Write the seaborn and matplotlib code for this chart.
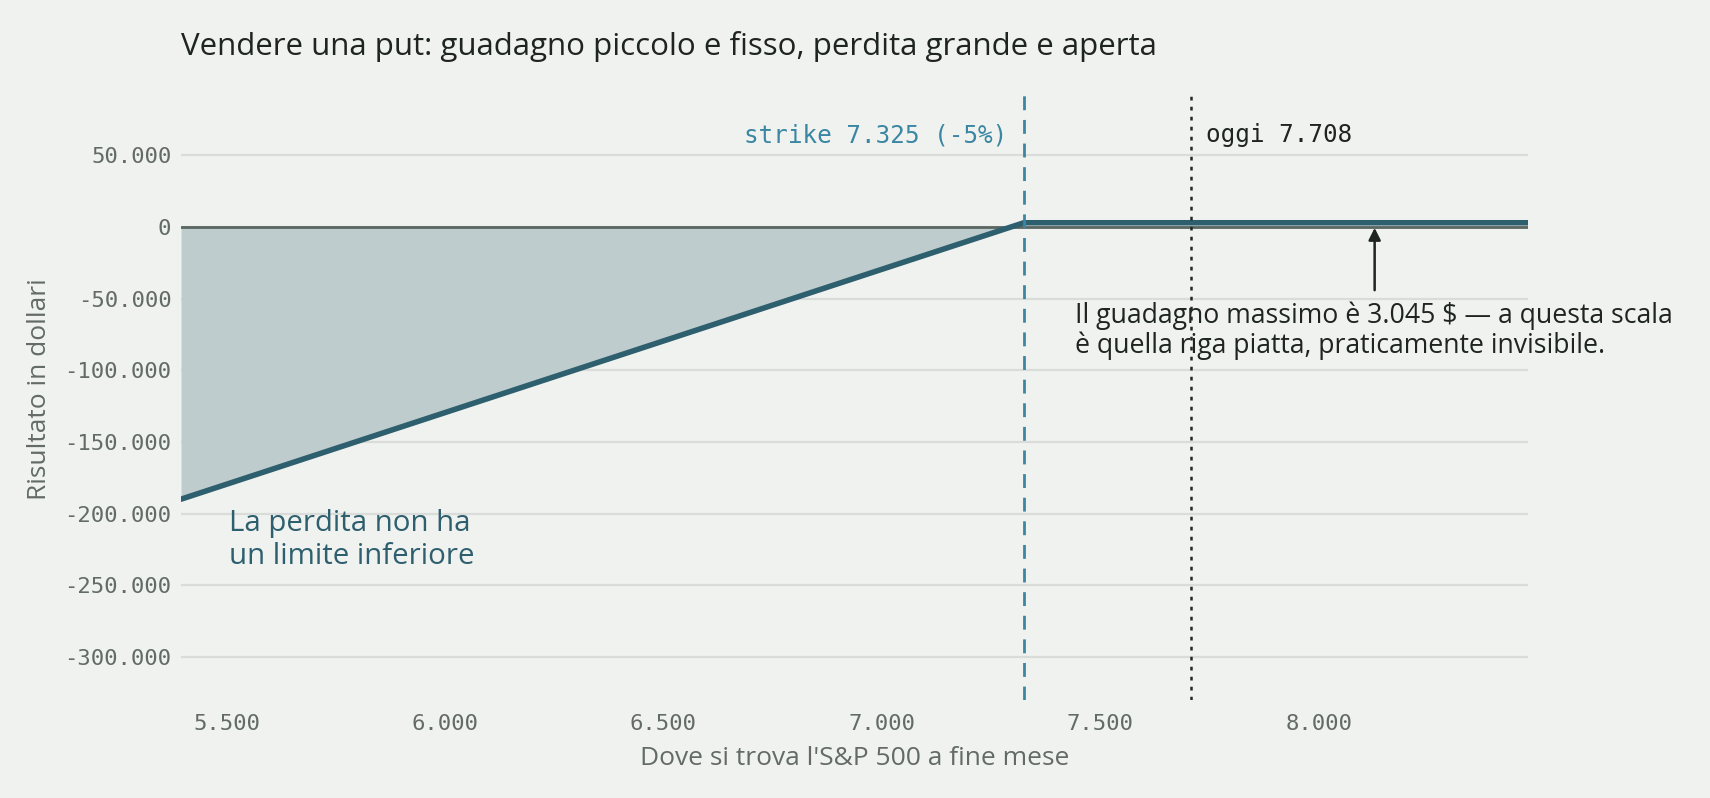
import numpy as np
import pandas as pd
import matplotlib.pyplot as plt
import seaborn as sns

# dati
prezzi = [5396, 7325, 8479]          # S&P 500 a fine mese
risultato = [-189855, 3045, 3045]     # P&L della put venduta ($)
strike = 7325
oggi = 7708
yticks = [50000, 0, -50000, -100000, -150000, -200000, -250000, -300000]
xticks = [5500, 6000, 6500, 7000, 7500, 8000]

bg = '#f0f2ef'
sns.set_theme(style='white', rc={'axes.facecolor': bg, 'figure.facecolor': bg})
plt.rcParams['font.family'] = ['Open Sans', 'DejaVu Sans']

df = pd.DataFrame({'prezzo': prezzi, 'pl': risultato})

fig = plt.figure(figsize=(17.1, 7.98), dpi=100)
ax = fig.add_axes([181 / 1710, 98 / 798, (1528 - 181) / 1710, (707 - 98) / 798])

ax.set_xlim(5396, 8479)
ax.set_ylim(-330000, 95000)

for v in yticks:
    ax.axhline(v, color='#d9dcd8', lw=1.6, zorder=0)

y = np.array(risultato, dtype=float)
ax.fill_between(prezzi, y, 0, where=y < 0, interpolate=True, color='#bfcccd', lw=0, zorder=1)
ax.axhline(0, color='#5a6662', lw=2, zorder=2)
sns.lineplot(data=df, x='prezzo', y='pl', ax=ax, color='#2e5f6e', lw=4, zorder=3)

ax.axvline(strike, color='#3a86a3', lw=2, ls=(0, (5, 3.5)), zorder=4)
ax.axvline(oggi, color='#222826', lw=1.8, ls=(0, (1.5, 2.5)), zorder=4)

mono = 'DejaVu Sans Mono'
ax.text(strike - 37, 64000, 'strike 7.325 (-5%)', ha='right', va='center',
        fontsize=17.5, color='#3a86a3', family=mono)
ax.text(oggi + 35, 64000, 'oggi 7.708', ha='left', va='center',
        fontsize=17.5, color='#1e2422', family=mono)

ax.text(7442, -52000, 'Il guadagno massimo è 3.045 $ — a questa scala\nè quella riga piatta, praticamente invisibile.',
        ha='left', va='top', fontsize=19.2, color='#1e2422', linespacing=1.08)
ax.annotate('', xy=(8128, -500), xytext=(8128, -44000),
            arrowprops=dict(arrowstyle='-|>', color='#1e2422', lw=1.8, mutation_scale=18,
                            shrinkA=0, shrinkB=0))

ax.text(5505, -197000, 'La perdita non ha\nun limite inferiore', ha='left', va='top',
        fontsize=21.2, color='#2e5f6e', linespacing=1.17)

ax.set_xticks(xticks)
ax.set_xticklabels([f'{v:,}'.replace(',', '.') for v in xticks])
ax.set_yticks(yticks)
ax.set_yticklabels([f'{v:,}'.replace(',', '.') for v in yticks])
for lab in ax.get_xticklabels() + ax.get_yticklabels():
    lab.set_family(mono)
    lab.set_fontsize(16)
    lab.set_color('#636b67')
ax.tick_params(axis='x', length=0, pad=10)
ax.tick_params(axis='y', length=0, pad=7)

sns.despine(ax=ax, left=True, bottom=True)

ax.set_xlabel("Dove si trova l'S&P 500 a fine mese", fontsize=19, color='#636b67', labelpad=9)
ax.set_ylabel('Risultato in dollari', fontsize=19, color='#636b67')
ax.yaxis.set_label_coords(-0.096, 0.51)

fig.text(181 / 1710, 1 - 47 / 798, 'Vendere una put: guadagno piccolo e fisso, perdita grande e aperta',
         ha='left', va='center', fontsize=22.5, color='#1e2422')

fig.savefig('out.png', dpi=100, facecolor=bg)
